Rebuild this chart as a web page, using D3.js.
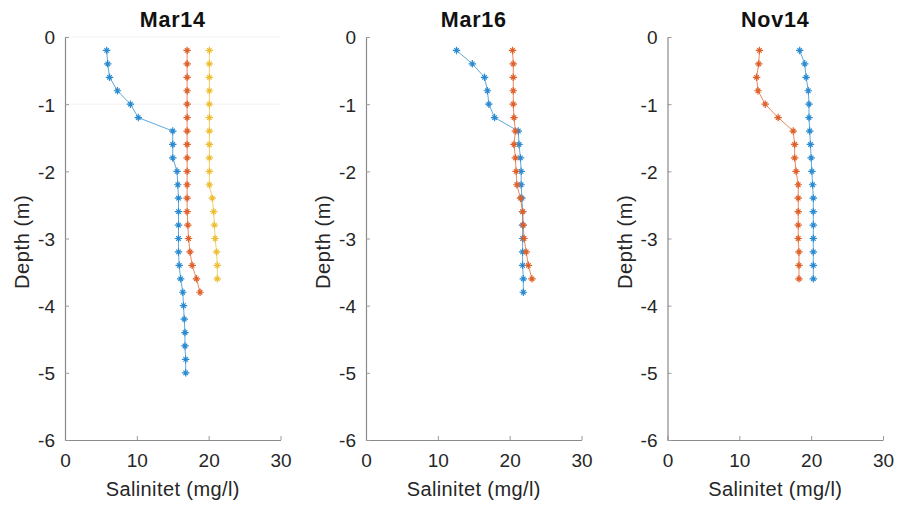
<!DOCTYPE html>
<html><head><meta charset="utf-8">
<script src="https://cdn.jsdelivr.net/npm/d3@7"></script>
<style>
body{margin:0;background:#fff;}
svg{display:block;font-family:"Liberation Sans",Arial,sans-serif;}
</style></head>
<body><svg id="c" width="900" height="505"></svg>
<script>
// ---- data ----
const titles = ["Mar14", "Mar16", "Nov14"];
const xTicks = [0, 10, 20, 30];
const yTicks = [0, -1, -2, -3, -4, -5, -6];
const xLabel = "Salinitet (mg/l)";
const yLabel = "Depth (m)";

const depth25 = [-0.2,-0.4,-0.6,-0.8,-1.0,-1.2,-1.4,-1.6,-1.8,-2.0,-2.2,-2.4,-2.6,-2.8,-3.0,-3.2,-3.4,-3.6,-3.8,-4.0,-4.2,-4.4,-4.6,-4.8,-5.0];
const depth19 = [-0.2,-0.4,-0.6,-0.8,-1.0,-1.2,-1.4,-1.6,-1.8,-2.0,-2.2,-2.4,-2.6,-2.8,-3.0,-3.2,-3.4,-3.6,-3.8];
const depth18 = [-0.2,-0.4,-0.6,-0.8,-1.0,-1.2,-1.4,-1.6,-1.8,-2.0,-2.2,-2.4,-2.6,-2.8,-3.0,-3.2,-3.4,-3.6];

const mar14Blue   = [5.8,5.95,6.2,7.3,9.1,10.2,15.0,15.0,15.0,15.6,15.7,15.8,15.8,15.8,15.8,15.8,15.9,16.1,16.4,16.5,16.6,16.7,16.7,16.8,16.8];
const mar14Red    = [17.0,17.0,17.0,17.0,17.0,17.0,17.0,17.0,17.0,17.0,17.0,17.0,17.0,17.1,17.2,17.4,17.7,18.3,18.8];
const mar14Yellow = [20.1,20.1,20.1,20.1,20.1,20.1,20.1,20.1,20.1,20.1,20.1,20.5,20.7,20.8,20.9,21.1,21.2,21.2];

const mar16Blue = [12.6,14.8,16.5,16.9,17.1,17.9,21.2,21.3,21.5,21.6,21.6,21.7,21.8,21.8,21.8,21.8,21.8,21.9,21.9];
const mar16Red  = [20.4,20.5,20.5,20.5,20.5,20.6,20.8,20.6,20.8,20.9,21.0,21.5,21.8,21.9,22.0,22.3,22.6,23.1];

const nov14Blue = [18.4,19.1,19.3,19.6,19.7,19.7,19.8,19.9,20.0,20.1,20.2,20.3,20.3,20.3,20.3,20.3,20.3,20.3];
const nov14Red  = [12.8,12.7,12.4,12.6,13.6,15.4,17.5,17.7,17.7,17.9,18.2,18.2,18.2,18.2,18.2,18.3,18.3,18.3];

const colBlue = "#2a8bd0", colRed = "#e0602a", colYellow = "#eebf35";

const panels = [
  {title: titles[0], series: [
    {x: mar14Blue, y: depth25, c: colBlue},
    {x: mar14Red, y: depth19, c: colRed},
    {x: mar14Yellow, y: depth18, c: colYellow}]},
  {title: titles[1], series: [
    {x: mar16Blue, y: depth19, c: colBlue},
    {x: mar16Red, y: depth18, c: colRed}]},
  {title: titles[2], series: [
    {x: nov14Blue, y: depth18, c: colBlue},
    {x: nov14Red, y: depth18, c: colRed}]}
];

// ---- layout ----
const lefts = [65, 366, 667.5];
const pw = 215.5, plotTop = 37, plotBottom = 440;
const svg = d3.select("#c");

const star = {
  draw(ctx, size) {
    const r = Math.sqrt(size) / 2, d = r * 0.6;
    ctx.moveTo(-r, 0); ctx.lineTo(r, 0);
    ctx.moveTo(0, -r); ctx.lineTo(0, r);
    ctx.moveTo(-d, -d); ctx.lineTo(d, d);
    ctx.moveTo(-d, d); ctx.lineTo(d, -d);
  }
};
const sym = d3.symbol().type(star).size(56);

panels.forEach((p, i) => {
  const x = d3.scaleLinear().domain([0, 30]).range([lefts[i], lefts[i] + pw]);
  const y = d3.scaleLinear().domain([-6, 0]).range([plotBottom, plotTop]);
  const g = svg.append("g");

  if (i === 0) {
    [0, -1].forEach(v => g.append("line")
      .attr("x1", x(0)).attr("x2", x(30)).attr("y1", y(v)).attr("y2", y(v))
      .attr("stroke", "#f2f2f2").attr("stroke-width", 1));
  }

  const xa = g.append("g").attr("transform", `translate(0,${plotBottom})`)
    .call(d3.axisBottom(x).tickValues(xTicks).tickSizeInner(-4).tickSizeOuter(0).tickPadding(14));
  const ya = g.append("g").attr("transform", `translate(${lefts[i]},0)`)
    .call(d3.axisLeft(y).tickValues(yTicks).tickSizeInner(-4).tickSizeOuter(0).tickPadding(10)
      .tickFormat(d => String(d)));
  [xa, ya].forEach(a => {
    a.select(".domain").attr("stroke", "#8a8a8a").attr("stroke-width", 1.2);
    a.selectAll(".tick line").attr("stroke", "#9a9a9a");
    a.selectAll(".tick text").attr("fill", "#262626").style("font-size", "19px")
      .style("font-family", '"Liberation Sans",Arial,sans-serif');
  });
  ya.selectAll(".tick text").attr("dy", "0.36em");

  g.append("text").attr("x", x(15)).attr("y", 27).attr("text-anchor", "middle")
    .style("font-size", "21.5px").style("font-weight", "bold").style("letter-spacing", "0.8px")
    .attr("fill", "#111").text(p.title);
  g.append("text").attr("x", x(15)).attr("y", 496).attr("text-anchor", "middle")
    .style("font-size", "20px").style("letter-spacing", "0.4px").attr("fill", "#262626").text(xLabel);
  g.append("text").attr("transform", `translate(${lefts[i] - 36},${y(-3.05)}) rotate(-90)`)
    .attr("text-anchor", "middle").style("font-size", "20px").style("letter-spacing", "0.6px")
    .attr("fill", "#262626").text(yLabel);

  p.series.forEach(s => {
    const pts = s.x.map((v, k) => [v, s.y[k]]);
    g.append("path").datum(pts)
      .attr("d", d3.line().x(d => x(d[0])).y(d => y(d[1])))
      .attr("fill", "none").attr("stroke", s.c).attr("stroke-width", 1).attr("stroke-opacity", 0.75);
    g.selectAll(null).data(pts).enter().append("path")
      .attr("transform", d => `translate(${x(d[0])},${y(d[1])})`)
      .attr("d", sym).attr("fill", "none").attr("stroke", s.c).attr("stroke-width", 1.2);
  });
});
</script></body></html>
